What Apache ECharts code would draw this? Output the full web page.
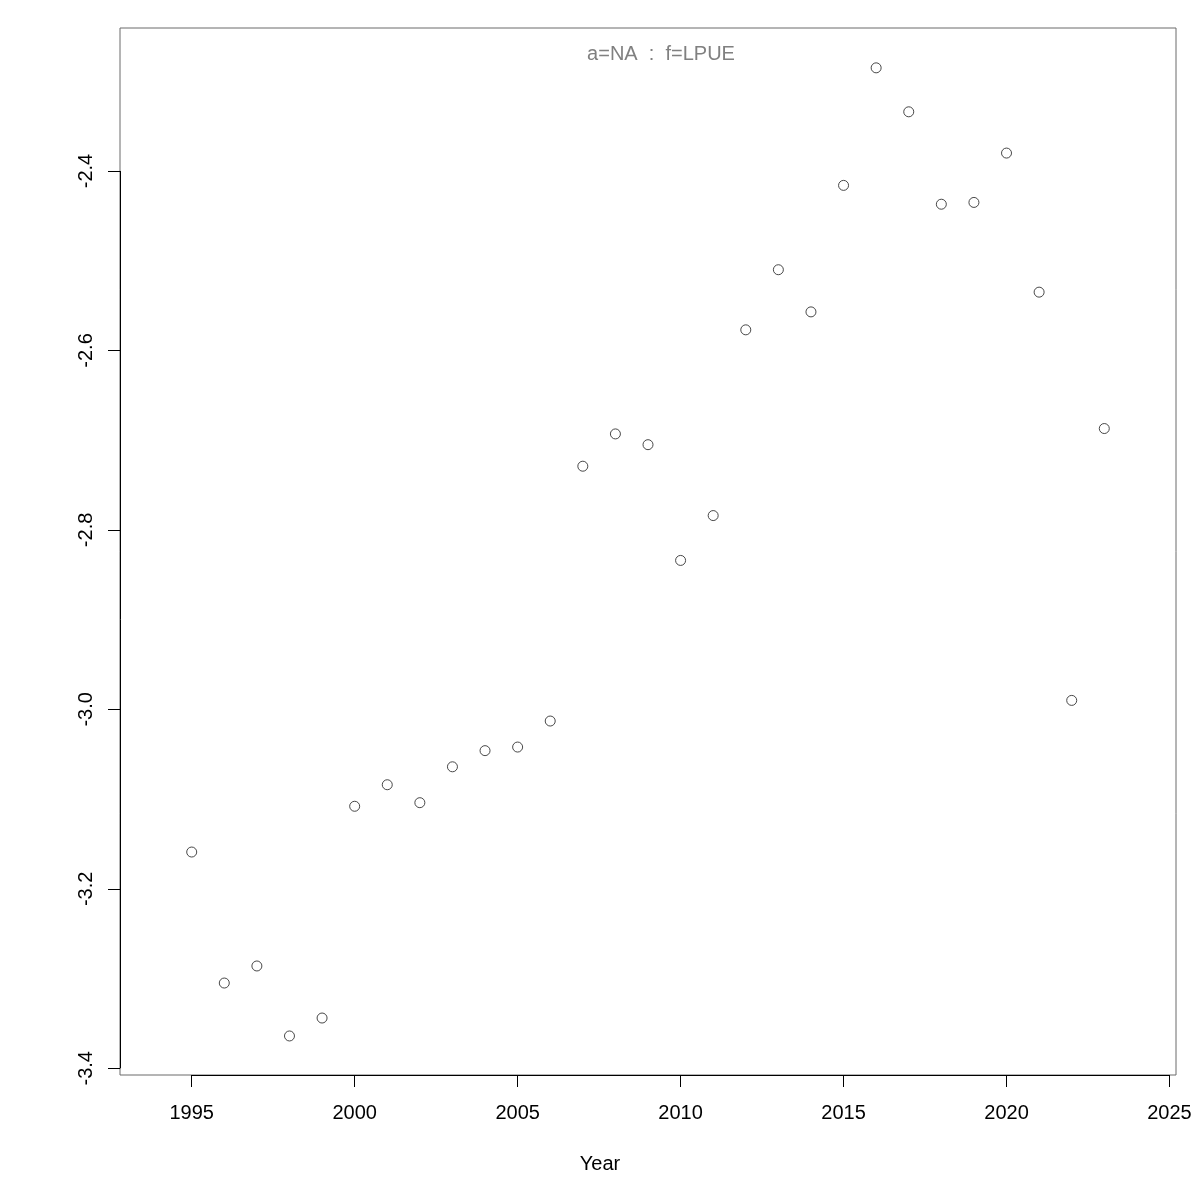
<!DOCTYPE html>
<html>
<head>
<meta charset="utf-8">
<script src="https://cdn.jsdelivr.net/npm/echarts@6/dist/echarts.min.js"></script>
<style>html,body{margin:0;padding:0;background:#fff}#c{width:1200px;height:1200px}</style>
</head>
<body>
<div id="c"></div>
<script>
var years = [1995,1996,1997,1998,1999,2000,2001,2002,2003,2004,2005,2006,2007,2008,2009,2010,2011,2012,2013,2014,2015,2016,2017,2018,2019,2020,2021,2022,2023];
var values = [-3.159,-3.305,-3.286,-3.364,-3.344,-3.108,-3.084,-3.104,-3.064,-3.046,-3.042,-3.013,-2.729,-2.693,-2.705,-2.834,-2.784,-2.577,-2.510,-2.557,-2.416,-2.285,-2.334,-2.437,-2.435,-2.380,-2.535,-2.990,-2.687];
var xTicks = [1995,2000,2005,2010,2015,2020,2025];
var yTicks = [-3.4,-3.2,-3.0,-2.8,-2.6,-2.4];
var xRange = [1992.8, 2025.2];
var yRange = [-3.4075, -2.2406];
var titleText = 'a=NA  :  f=LPUE';
var xName = 'Year';

var FONT = '"Liberation Sans", Arial, Helvetica, sans-serif';
var chart = echarts.init(document.getElementById('c'), null, {renderer:'canvas'});
var option = {
  backgroundColor: '#ffffff',
  animation: false,
  title: [
    {text: titleText, left: 656, top: 39, textAlign: 'center',
     textStyle: {fontFamily: FONT, fontSize: 20, fontWeight: 'normal', color: '#808080'}},
    {text: xName, left: 595, top: 1149, textAlign: 'center',
     textStyle: {fontFamily: FONT, fontSize: 20, fontWeight: 'normal', color: '#000'}}
  ],
  grid: {left: 120, right: 24, top: 28, bottom: 125, show: true, borderColor: '#6a6a6a', borderWidth: 1, backgroundColor: 'transparent'},
  xAxis: {
    type: 'value', min: xRange[0], max: xRange[1],
    axisLine: {show: false},
    splitLine: {show: false},
    axisTick: {show: true, inside: false, length: 12, customValues: xTicks, lineStyle: {color: '#000', width: 1}},
    axisLabel: {show: true, customValues: xTicks, margin: 28, fontFamily: FONT, fontSize: 20, color: '#000',
      formatter: function(v){ return String(Math.round(v)); }}
  },
  yAxis: {
    type: 'value', min: yRange[0], max: yRange[1],
    axisLine: {show: false},
    splitLine: {show: false},
    axisTick: {show: true, inside: false, length: 12, customValues: yTicks, lineStyle: {color: '#000', width: 1}},
    axisLabel: {show: true, customValues: yTicks, rotate: 90, margin: 24, fontFamily: FONT, fontSize: 20, color: '#000',
      formatter: function(v){ return v.toFixed(1); }}
  },
  series: [{
    type: 'scatter',
    clip: false,
    symbol: 'circle',
    symbolSize: 10,
    itemStyle: {color: 'rgba(255,255,255,0)', borderColor: '#333', borderWidth: 0.9, opacity: 1},
    data: years.map(function(y, i){ return [y, values[i]]; }),
    markLine: {
      silent: true, symbol: 'none', animation: false,
      label: {show: false},
      lineStyle: {color: '#000', width: 1, type: 'solid'},
      data: [
        [{coord: [xTicks[0], yRange[0]]}, {coord: [xTicks[xTicks.length-1], yRange[0]]}],
        [{coord: [xRange[0], yTicks[0]]}, {coord: [xRange[0], yTicks[yTicks.length-1]]}]
      ]
    }
  }]
};
chart.setOption(option);
</script>
</body>
</html>
